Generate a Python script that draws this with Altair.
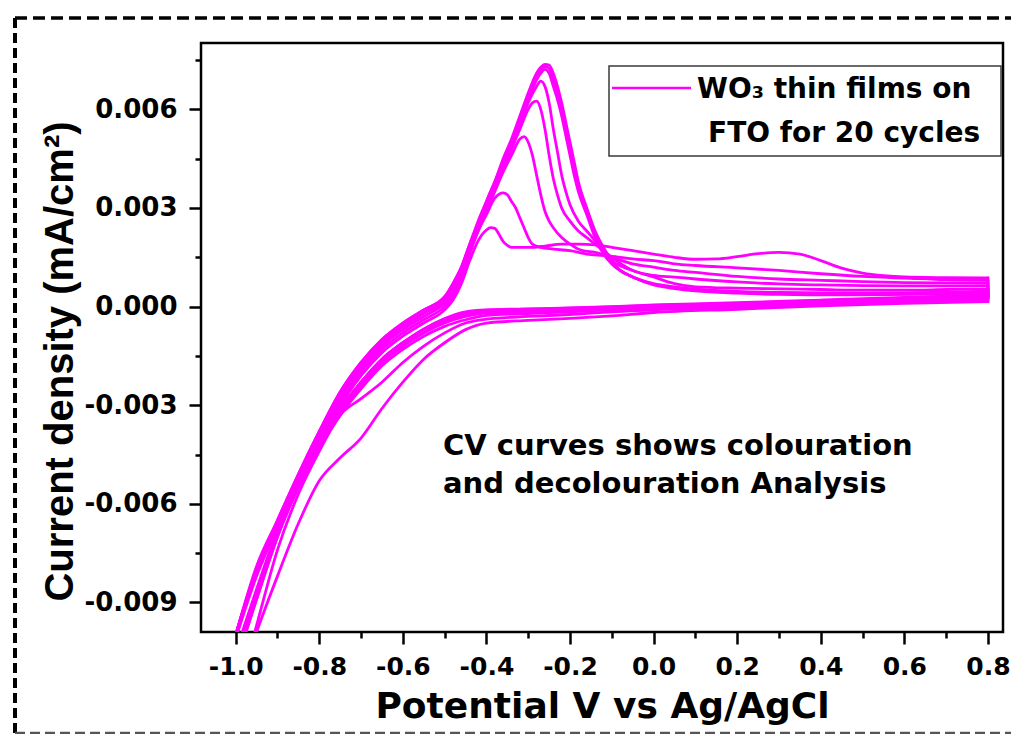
import altair as alt
import pandas as pd

# ---------------- data ----------------
CATH_V = [0.8, 0.6, 0.4, 0.2, 0.0, -0.1, -0.2, -0.3, -0.4, -0.45,
          -0.5, -0.55, -0.6, -0.65, -0.7, -0.75, -0.8, -0.85, -0.9, -0.95, -1.0]

C1_AV = [-1.0, -0.95, -0.9, -0.85, -0.8, -0.75, -0.7, -0.65, -0.6, -0.55,
         -0.5, -0.48, -0.46, -0.44, -0.42, -0.40, -0.39, -0.38, -0.37, -0.36,
         -0.35, -0.34, -0.30, -0.26, -0.22, -0.18, -0.14, -0.10, -0.05, 0.0,
         0.05, 0.1, 0.15, 0.2, 0.25, 0.3, 0.35, 0.4, 0.45, 0.5,
         0.55, 0.6, 0.7, 0.8]
C1_AI = [-0.0101, -0.0082, -0.0067, -0.0054, -0.0041, -0.0030, -0.0021, -0.0014, -0.0009, -0.0005,
         -0.0001, 0.0002, 0.0007, 0.0014, 0.0020, 0.00233, 0.0024, 0.00238, 0.0022, 0.00198,
         0.00186, 0.0018, 0.0018, 0.00184, 0.0019, 0.0019, 0.00188, 0.0018, 0.0017, 0.0016,
         0.0015, 0.00144, 0.00145, 0.00152, 0.00161, 0.00165, 0.0016, 0.0014, 0.00117, 0.00102,
         0.00094, 0.0009, 0.00088, 0.00087]
C1_CI = [0.00015, 0.0001, 0.00002, -0.00008, -0.00018, -0.00028, -0.00036, -0.00042, -0.0005, -0.0007,
         -0.0011, -0.0016, -0.0023, -0.0031, -0.0040, -0.0046, -0.0053, -0.0066, -0.0082, -0.0099, -0.0118]

C2_AV = [-1.0, -0.95, -0.9, -0.85, -0.8, -0.75, -0.7, -0.65, -0.6, -0.55,
         -0.5, -0.48, -0.46, -0.44, -0.42, -0.40, -0.38, -0.36, -0.35, -0.34,
         -0.33, -0.32, -0.31, -0.30, -0.29, -0.27, -0.24, -0.20, -0.16, -0.12,
         -0.08, -0.05, 0.0, 0.05, 0.1, 0.2, 0.3, 0.4, 0.5, 0.6,
         0.7, 0.8]
C2_AI = [-0.0101, -0.0081, -0.0067, -0.0053, -0.0040, -0.0029, -0.0020, -0.0013, -0.0008, -0.0004,
         0.0, 0.0003, 0.0009, 0.0016, 0.0023, 0.0028, 0.0033, 0.00346, 0.0034, 0.0032,
         0.0030, 0.0027, 0.0024, 0.0021, 0.0019, 0.0018, 0.00175, 0.0017, 0.0016, 0.00155,
         0.0015, 0.00145, 0.0014, 0.0013, 0.00125, 0.00118, 0.0011, 0.001, 0.00092, 0.00087,
         0.00082, 0.0008]
C2_CI = [0.0002, 0.00015, 0.00007, -0.00002, -0.0001, -0.00016, -0.00024, -0.0003, -0.00038, -0.0005,
         -0.0008, -0.0012, -0.0017, -0.0023, -0.0028, -0.0033, -0.0044, -0.0057, -0.0074, -0.0097, -0.0120]

C3_AV = [-1.0, -0.95, -0.9, -0.85, -0.8, -0.75, -0.7, -0.65, -0.6, -0.55,
         -0.5, -0.48, -0.46, -0.44, -0.42, -0.40, -0.38, -0.36, -0.34, -0.32,
         -0.31, -0.30, -0.29, -0.28, -0.27, -0.26, -0.25, -0.24, -0.22, -0.20,
         -0.17, -0.14, -0.10, -0.05, 0.0, 0.05, 0.1, 0.2, 0.3, 0.4,
         0.5, 0.6, 0.7, 0.8]
C3_AI = [-0.0100, -0.0080, -0.0066, -0.0052, -0.0039, -0.0028, -0.0019, -0.0012, -0.0007, -0.0003,
         0.0001, 0.0004, 0.0010, 0.0017, 0.0023, 0.0029, 0.0035, 0.0041, 0.0046, 0.0051,
         0.00517, 0.0050, 0.0046, 0.0040, 0.0034, 0.0029, 0.0026, 0.0024, 0.0021, 0.0019,
         0.0017, 0.00165, 0.0015, 0.0013, 0.0012, 0.0011, 0.00104, 0.00092, 0.00084, 0.0008,
         0.00076, 0.00073, 0.00072, 0.00072]
C3_CI = [0.00025, 0.00018, 0.0001, 0.00003, -0.00004, -0.0001, -0.00016, -0.00021, -0.00027, -0.0004,
         -0.0006, -0.0009, -0.0013, -0.0018, -0.0025, -0.0033, -0.0043, -0.0055, -0.0070, -0.0089, -0.0109]

C4_AV = [-1.0, -0.95, -0.9, -0.85, -0.8, -0.75, -0.7, -0.65, -0.6, -0.55,
         -0.5, -0.48, -0.46, -0.44, -0.42, -0.40, -0.38, -0.36, -0.34, -0.32,
         -0.30, -0.29, -0.28, -0.27, -0.26, -0.25, -0.24, -0.23, -0.22, -0.20,
         -0.18, -0.16, -0.14, -0.12, -0.10, -0.05, 0.0, 0.05, 0.1, 0.2,
         0.3, 0.4, 0.5, 0.6, 0.7, 0.8]
C4_AI = [-0.0100, -0.0080, -0.0066, -0.0052, -0.0039, -0.0027, -0.0018, -0.0011, -0.0006, -0.0002,
         0.0002, 0.0005, 0.0010, 0.0017, 0.0023, 0.0030, 0.0036, 0.0042, 0.0048, 0.0054,
         0.0060, 0.0062, 0.00625, 0.0060, 0.0054, 0.0046, 0.0039, 0.0034, 0.0030, 0.0026,
         0.0023, 0.0021, 0.0019, 0.0017, 0.0015, 0.0011, 0.00095, 0.0009, 0.00084, 0.00075,
         0.00069, 0.00066, 0.00064, 0.00063, 0.00063, 0.00064]
C4_CI = [0.00028, 0.0002, 0.00012, 0.00005, -0.00002, -0.00007, -0.00012, -0.00017, -0.0002, -0.0003,
         -0.0005, -0.0008, -0.0012, -0.0017, -0.0024, -0.0032, -0.0042, -0.0054, -0.0069, -0.0088, -0.0108]

C5_AV = [-1.0, -0.95, -0.9, -0.85, -0.8, -0.75, -0.7, -0.65, -0.6, -0.55,
         -0.5, -0.48, -0.46, -0.44, -0.42, -0.40, -0.38, -0.36, -0.34, -0.32,
         -0.30, -0.28, -0.27, -0.26, -0.25, -0.24, -0.23, -0.22, -0.21, -0.20,
         -0.18, -0.16, -0.14, -0.12, -0.10, -0.05, 0.0, 0.05, 0.1, 0.2,
         0.3, 0.4, 0.5, 0.6, 0.7, 0.8]
C5_AI = [-0.0100, -0.0080, -0.0066, -0.0052, -0.0039, -0.0027, -0.0018, -0.0011, -0.0006, -0.0002,
         0.0002, 0.0006, 0.0011, 0.0018, 0.0024, 0.0030, 0.0036, 0.0042, 0.0048, 0.0055,
         0.0062, 0.0067, 0.00686, 0.0067, 0.0062, 0.0054, 0.0047, 0.0040, 0.0035, 0.0031,
         0.0026, 0.0023, 0.0020, 0.0017, 0.0014, 0.0011, 0.0009, 0.0007, 0.0006, 0.00056,
         0.00054, 0.00052, 0.0005, 0.0005, 0.00052, 0.00054]
C5_CI = [0.0003, 0.00022, 0.00014, 0.00007, 0.0, -0.00005, -0.0001, -0.00014, -0.00017, -0.00025,
         -0.00045, -0.0008, -0.0012, -0.0017, -0.0024, -0.0033, -0.0043, -0.0055, -0.0070, -0.0089, -0.0108]

B_AV = [-1.0, -0.95, -0.9, -0.85, -0.8, -0.75, -0.7, -0.65, -0.6, -0.55,
        -0.5, -0.48, -0.46, -0.44, -0.42, -0.40, -0.38, -0.36, -0.34, -0.32,
        -0.30, -0.28, -0.27, -0.26, -0.25, -0.24, -0.23, -0.22, -0.21, -0.20,
        -0.19, -0.18, -0.16, -0.14, -0.12, -0.10, -0.08, -0.05, 0.0, 0.05,
        0.1, 0.2, 0.3, 0.4, 0.5, 0.6, 0.7, 0.8]
B1_AI = [-0.0100, -0.0080, -0.0066, -0.0052, -0.0039, -0.0027, -0.0018, -0.0011, -0.0006, -0.0002,
         0.0002, 0.0006, 0.0011, 0.0018, 0.0024, 0.0031, 0.0037, 0.0043, 0.0049, 0.0056,
         0.0063, 0.0069, 0.0071, 0.00722, 0.0071, 0.0067, 0.0063, 0.0058, 0.0052, 0.0046,
         0.0040, 0.0035, 0.0028, 0.0021, 0.0016, 0.0013, 0.0011, 0.0009, 0.0007, 0.0006,
         0.00053, 0.00046, 0.00043, 0.00042, 0.00041, 0.00042, 0.00044, 0.00047]
B2_AI = [-0.0100, -0.0080, -0.0065, -0.0051, -0.0038, -0.0026, -0.0017, -0.0010, -0.0005, -0.0001,
         0.0003, 0.0007, 0.0012, 0.0019, 0.0025, 0.0032, 0.0038, 0.0044, 0.0050, 0.0057,
         0.0064, 0.00705, 0.0072, 0.0073, 0.00725, 0.0069, 0.0065, 0.0060, 0.0054, 0.0048,
         0.0042, 0.0036, 0.0029, 0.0022, 0.0017, 0.0013, 0.0011, 0.0009, 0.00068, 0.00057,
         0.0005, 0.00043, 0.0004, 0.00039, 0.00038, 0.00039, 0.00041, 0.00044]
B3_AI = [-0.0100, -0.0079, -0.0065, -0.0051, -0.0038, -0.0026, -0.0017, -0.0010, -0.0005, -0.0001,
         0.0003, 0.0007, 0.0012, 0.0019, 0.0026, 0.0032, 0.0038, 0.0045, 0.0051, 0.0058,
         0.0065, 0.0071, 0.00728, 0.00737, 0.00735, 0.0071, 0.0067, 0.0062, 0.0056, 0.0050,
         0.0044, 0.0038, 0.0030, 0.0023, 0.0018, 0.0014, 0.0011, 0.0009, 0.00066, 0.00055,
         0.00048, 0.00041, 0.00037, 0.00036, 0.00036, 0.00037, 0.00039, 0.00041]
B1_CI = [0.00032, 0.00024, 0.00016, 0.00008, 0.00002, -0.00003, -0.00007, -0.0001, -0.00013, -0.0002,
         -0.0004, -0.0007, -0.0011, -0.0016, -0.0023, -0.0032, -0.0042, -0.0054, -0.0069, -0.0088, -0.0107]
B2_CI = [0.00034, 0.00026, 0.00018, 0.0001, 0.00004, -0.00001, -0.00005, -0.00008, -0.00011, -0.00018,
         -0.00038, -0.0007, -0.0011, -0.0016, -0.0023, -0.0031, -0.0041, -0.0053, -0.0068, -0.0087, -0.0106]
B3_CI = [0.00036, 0.00028, 0.0002, 0.00012, 0.00005, 0.0, -0.00004, -0.00007, -0.0001, -0.00016,
         -0.00036, -0.00068, -0.0011, -0.0016, -0.0023, -0.0031, -0.0041, -0.0053, -0.0068, -0.0086, -0.0105]

CYCLES = [
    ("cycle 1", C1_AV, C1_AI, C1_CI),
    ("cycle 2", C2_AV, C2_AI, C2_CI),
    ("cycle 3", C3_AV, C3_AI, C3_CI),
    ("cycle 4", C4_AV, C4_AI, C4_CI),
    ("cycle 5", C5_AV, C5_AI, C5_CI),
    ("cycle 18", B_AV, B1_AI, B1_CI),
    ("cycle 19", B_AV, B2_AI, B2_CI),
    ("cycle 20", B_AV, B3_AI, B3_CI),
]

X_TICKS = [-1.0, -0.9, -0.8, -0.7, -0.6, -0.5, -0.4, -0.3, -0.2, -0.1,
           0.0, 0.1, 0.2, 0.3, 0.4, 0.5, 0.6, 0.7, 0.8]
Y_TICKS = [-0.009, -0.0075, -0.006, -0.0045, -0.003, -0.0015, 0.0,
           0.0015, 0.003, 0.0045, 0.006, 0.0075]

LEGEND_LINE1 = "WO\u2083 thin films on"
LEGEND_LINE2 = "FTO for 20 cycles"
NOTE_LINE1 = "CV curves shows colouration"
NOTE_LINE2 = "and decolouration Analysis"
X_TITLE = "Potential V vs Ag/AgCl"
Y_TITLE = "Current density (mA/cm\u00b2)"

# ---------------- build tables ----------------
rows = []
turns = []
for name, av, ai, ci in CYCLES:
    for v, c in zip(av, ai):
        rows.append({"cycle": name, "branch": "anodic", "potential": v, "current": c})
    for v, c in zip(CATH_V, ci):
        rows.append({"cycle": name, "branch": "cathodic", "potential": v, "current": c})
    # switching point at the positive vertex: end of anodic scan -> start of cathodic scan
    turns.append({"cycle": name, "potential": av[-1], "top": ai[-1], "bottom": ci[0]})
df = pd.DataFrame(rows)
turns_df = pd.DataFrame(turns)

MAGENTA = "#ff00ff"
FONT_W = "DejaVu Sans"
one = pd.DataFrame({"k": [0]})

XSCALE = alt.Scale(domain=[-1.083, 0.836], nice=False, zero=False)
YSCALE = alt.Scale(domain=[-0.0099, 0.00802], nice=False, zero=False)

x_axis = alt.Axis(
    values=X_TICKS,
    labelExpr="abs(round(datum.value*10)) % 2 == 0 ? replace(format(datum.value, '.1f'), '\u2212', '-') : ''",
    tickSize={"condition": {"test": "abs(round(datum.value*10)) % 2 == 0", "value": 12}, "value": 6},
    labelBaseline="alphabetic",
    labelPadding=30,
    labelFontSize=25,
    title=X_TITLE,
    titleFont=FONT_W, titleFontSize=36, titleFontWeight="bold",
    titleBaseline="alphabetic", titleY=85,
)
y_axis = alt.Axis(
    values=Y_TICKS,
    labelExpr="abs(round(datum.value/0.0015)) % 2 == 0 ? replace(format(datum.value, '.3f'), '\u2212', '-') : ''",
    tickSize={"condition": {"test": "abs(round(datum.value/0.0015)) % 2 == 0", "value": 12}, "value": 6},
    labelPadding=12,
    labelFontSize=26,
    title=Y_TITLE,
    titleFont="Liberation Sans", titleFontSize=40, titleFontWeight="bold",
    titleBaseline="alphabetic", titleX=-129, titleY=318, titleAngle=-90,
)

lines = alt.Chart(df).mark_line(color=MAGENTA, strokeWidth=2.8, clip=True,
                                interpolate="monotone", strokeCap="round").encode(
    x=alt.X("potential:Q", scale=XSCALE, axis=x_axis),
    y=alt.Y("current:Q", scale=YSCALE, axis=y_axis),
    detail=["cycle:N", "branch:N"],
    order="potential:Q",
)
turn_rules = alt.Chart(turns_df).mark_rule(color=MAGENTA, strokeWidth=2.8, strokeCap="round").encode(
    x=alt.X("potential:Q", scale=XSCALE),
    y=alt.Y("top:Q", scale=YSCALE),
    y2="bottom:Q",
)

legend_box = alt.Chart(one).mark_rect(fill="white", stroke="#3a3a3a", strokeWidth=1.5).encode(
    x=alt.value(408), x2=alt.value(800), y=alt.value(23), y2=alt.value(113))
legend_line = alt.Chart(one).mark_rule(color=MAGENTA, strokeWidth=2.5).encode(
    x=alt.value(411), x2=alt.value(490), y=alt.value(45))
txt = dict(align="left", baseline="alphabetic", font=FONT_W, fontWeight="bold", color="black")
legend_t1 = alt.Chart(one).mark_text(text=LEGEND_LINE1, fontSize=28, **txt).encode(
    x=alt.value(496), y=alt.value(55))
legend_t2 = alt.Chart(one).mark_text(text=LEGEND_LINE2, fontSize=28, **txt).encode(
    x=alt.value(507), y=alt.value(99))
note_t1 = alt.Chart(one).mark_text(text=NOTE_LINE1, fontSize=29, **txt).encode(
    x=alt.value(242), y=alt.value(412))
note_t2 = alt.Chart(one).mark_text(text=NOTE_LINE2, fontSize=29, **txt).encode(
    x=alt.value(242), y=alt.value(450))

border_top = alt.Chart(one).mark_rule(color="black", strokeWidth=3.5, strokeDash=[12, 6]).encode(
    x=alt.value(-186), x2=alt.value(812), y=alt.value(-25))
border_left = alt.Chart(one).mark_rule(color="black", strokeWidth=4, strokeDash=[10, 5]).encode(
    x=alt.value(-186), y=alt.value(-25), y2=alt.value(690))
border_bottom = alt.Chart(one).mark_rule(color="#555555", strokeWidth=2.5, strokeDash=[10, 5]).encode(
    x=alt.value(-186), x2=alt.value(812), y=alt.value(690))

chart = alt.layer(
    lines, turn_rules, legend_box, legend_line, legend_t1, legend_t2, note_t1, note_t2,
    border_top, border_left, border_bottom,
).properties(
    width=802, height=589,
    padding={"left": 193, "top": 35, "right": 8, "bottom": 102},
    autosize=alt.AutoSizeParams(type="none"),
    background="white",
).configure_view(
    stroke="black", strokeWidth=2.5,
).configure_axis(
    grid=False, domain=False,
    tickColor="black", tickWidth=2.5,
    labelFont=FONT_W, labelFontWeight="bold", labelColor="black",
    titleColor="black", labelFlush=False, labelOverlap=False,
)

chart.save("out.html", embed_options={"renderer": "svg", "actions": False})
